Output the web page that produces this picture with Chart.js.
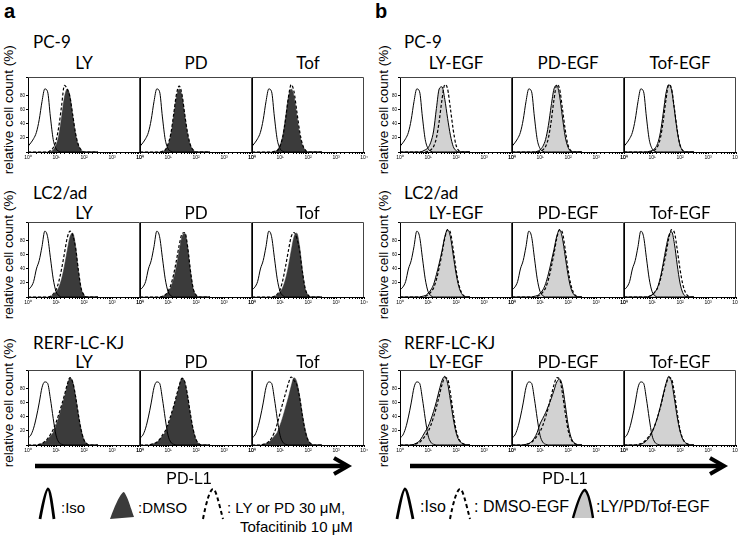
<!DOCTYPE html>
<html>
<head>
<meta charset="utf-8">
<script src="https://cdn.jsdelivr.net/npm/chart.js@4.4.1/dist/chart.umd.min.js"></script>
<style>
  html,body{margin:0;padding:0;background:#fff;}
  #fig{position:relative;width:738px;height:535px;overflow:hidden;font-family:"Liberation Sans",Arial,sans-serif;color:#000;}
  #fig canvas{position:absolute;}
  .t{position:absolute;white-space:nowrap;line-height:1;}
  .name{font-family:Lato,"Open Sans",sans-serif;font-size:17px;}
  .ttl{font-family:Lato,"Open Sans",sans-serif;font-size:17px;text-align:center;width:112px;}
  .ylab{font-size:13.5px;width:170px;text-align:center;transform:rotate(-90deg);}
  .leg{font-size:15px;}
  .legb{font-size:16px;}
  svg{position:absolute;left:0;top:0;}
</style>
</head>
<body>
<div id="fig">
  <svg width="738" height="535">
    <!-- PD-L1 arrows -->
    <line x1="35" y1="466" x2="344" y2="466" stroke="#000" stroke-width="4.5"/>
    <polyline points="334,458 348,466 334,474" fill="none" stroke="#000" stroke-width="4"/>
    <line x1="410" y1="466" x2="720" y2="466" stroke="#000" stroke-width="4.5"/>
    <polyline points="710,458 724,466 710,474" fill="none" stroke="#000" stroke-width="4"/>
    <!-- legend glyphs a -->
    <path d="M40,519 C43,503 46,489 48,489 C50,489 52,504 54,519" fill="none" stroke="#000" stroke-width="2.8"/>
    <path d="M110,519 C115,505 121,492 124,492 C128,497 131,509 134,517 Z" fill="#3b3b3b"/>
    <path d="M203,519 C206,503 210,489 213,489 C216,489 219,504 223,519" fill="none" stroke="#000" stroke-width="2" stroke-dasharray="4,3"/>
    <!-- legend glyphs b -->
    <path d="M397,519 C400,503 403,489 405,489 C407,489 410,504 413,519" fill="none" stroke="#000" stroke-width="2.8"/>
    <path d="M450,519 C453,503 457,489 460,489 C463,489 466,504 470,519" fill="none" stroke="#000" stroke-width="2" stroke-dasharray="4,3"/>
    <path d="M573,518 C577,504 582,490 585,490 C588,492 591,505 593,518 Z" fill="#c8c8c8" stroke="none"/>
    <path d="M573,518 C577,504 582,490 585,490 C588,492 591,505 593,518" fill="none" stroke="#000" stroke-width="2.4"/>
  </svg>
</div>
<script>
// ===== Dados =====
// eixo PD-L1 em décadas (10^0 ... 10^2.5), passo de 0.1
const logSteps = [0,0.1,0.2,0.3,0.4,0.5,0.6,0.7,0.8,0.9,1.0,1.1,1.2,1.3,1.4,1.5,1.6,1.7,1.8,1.9,2.0,2.1,2.2,2.3,2.4,2.5];
const xTickLabels = ['10\u2070','10\u00b9','10\u00b2','10\u00b3','10\u2074'];
const yTickLabels = ['20','40','60','80','100'];

const cellLines = ['PC-9','LC2/ad','RERF-LC-KJ'];
const titlesA = ['LY','PD','Tof'];
const titlesB = ['LY-EGF','PD-EGF','Tof-EGF'];

// PC-9
const isoPC9     = [8,13,19,28,46,72,90,86,50,18,5,1,0,0,0,0,0,0,0,0,0,0,0,0,0,0];
const dmsoPC9    = [0,0,0,0,0,0,0,0,1,3,10,24,50,78,90,80,52,26,10,3,0,0,0,0,0,0];
const lyPC9      = [0,0,0,0,0,0,0,0,2,6,16,36,66,95,90,78,52,26,10,3,0,0,0,0,0,0];
const pdPC9      = [0,0,0,0,0,0,0,0,1,3,11,26,53,82,94,82,53,27,10,3,0,0,0,0,0,0];
const tofPC9     = [0,0,0,0,0,0,0,0,1,2,8,22,47,78,96,86,58,30,11,3,0,0,0,0,0,0];
const dmsoEgfPC9 = [0,0,0,0,0,0,0,0,0,0,1,3,8,20,44,75,96,90,62,32,10,2,0,0,0,0];
const lyEgfPC9   = [0,0,0,0,0,0,0,0,1,3,6,14,30,62,90,93,75,48,24,8,2,0,0,0,0,0];
const pdEgfPC9   = [0,0,0,0,0,0,0,0,0,1,3,8,18,38,66,90,95,80,50,22,7,1,0,0,0,0];
const tofEgfPC9  = [0,0,0,0,0,0,0,0,0,1,2,5,12,28,55,84,96,88,60,30,10,2,0,0,0,0];

// LC2/ad
const isoLC2     = [10,14,22,40,52,72,94,86,56,26,8,2,0,0,0,0,0,0,0,0,0,0,0,0,0,0];
const dmsoLC2    = [0,0,0,0,0,0,0,0,1,3,7,14,26,44,66,86,91,72,38,12,3,0,0,0,0,0];
const lyLC2      = [0,0,0,0,0,0,0,0,1,4,10,22,40,62,84,94,88,70,38,12,3,0,0,0,0,0];
const pdLC2      = [0,0,0,0,0,0,0,0,1,3,8,17,32,52,74,90,92,72,38,12,3,0,0,0,0,0];
const tofLC2     = [0,0,0,0,0,0,0,0,1,4,10,24,44,66,86,92,84,66,36,12,3,0,0,0,0,0];
const dmsoEgfLC2 = [0,0,0,0,0,0,0,0,0,1,3,7,13,25,42,62,84,96,92,68,40,18,6,1,0,0];
const lyEgfLC2   = [0,0,0,0,0,0,0,0,1,2,5,10,18,32,48,66,86,96,86,60,34,15,5,1,0,0];
const pdEgfLC2   = [0,0,0,0,0,0,0,0,1,2,5,10,19,33,50,68,87,96,84,58,32,13,4,1,0,0];
const tofEgfLC2  = [0,0,0,0,0,0,0,0,0,1,3,7,14,28,48,70,88,93,76,46,20,6,1,0,0,0];

// RERF-LC-KJ
const isoRERF     = [10,14,24,40,60,82,90,88,66,38,14,4,1,0,0,0,0,0,0,0,0,0,0,0,0,0];
const dmsoRERF    = [0,0,0,0,1,2,4,8,13,18,28,40,54,68,84,96,90,70,44,22,8,2,0,0,0,0];
const lyRERF      = [0,0,0,0,1,2,5,9,15,22,32,44,57,71,86,96,89,69,43,21,7,2,0,0,0,0];
const pdRERF      = [0,0,0,0,1,2,4,8,14,20,30,42,55,70,85,95,90,70,44,22,8,2,0,0,0,0];
const tofRERF     = [0,0,0,0,1,2,5,10,18,30,45,60,74,88,97,92,86,68,42,20,7,2,0,0,0,0];
const dmsoEgfRERF = [0,0,0,0,0,1,2,4,8,13,19,28,40,54,70,86,96,94,74,46,22,9,3,1,0,0];
const lyEgfRERF   = [0,0,0,0,0,1,3,6,12,19,26,36,48,62,78,92,98,88,64,38,18,7,3,1,0,0];
const pdEgfRERF   = [0,0,0,0,0,1,2,5,10,18,30,38,46,56,66,78,90,94,84,58,30,12,4,1,0,0];
const tofEgfRERF  = [0,0,0,0,0,0,1,3,6,11,18,28,40,55,72,88,98,90,66,40,20,8,3,1,0,0];

const isoRows = [isoPC9, isoLC2, isoRERF];
const dmsoRows = [dmsoPC9, dmsoLC2, dmsoRERF];
const inhibRows = [[lyPC9,pdPC9,tofPC9],[lyLC2,pdLC2,tofLC2],[lyRERF,pdRERF,tofRERF]];
const dmsoEgfRows = [dmsoEgfPC9, dmsoEgfLC2, dmsoEgfRERF];
const egfRows = [[lyEgfPC9,pdEgfPC9,tofEgfPC9],[lyEgfLC2,pdEgfLC2,tofEgfLC2],[lyEgfRERF,pdEgfRERF,tofEgfRERF]];

// ===== Layout =====
const fig = document.getElementById('fig');
const PW = 112, PH = 75, AXW = 14, PADT = 4, PADR = 6, AXH = 12;
const colA = [28,140,252], colB = [400,512,624];
const rowTop = [77,222,370];
const nameY = [42,193,343], ttlY = [63,213,362];

function addText(cls, txt, left, top, extra){
  const d = document.createElement('div');
  d.className = 't ' + cls;
  d.textContent = txt;
  d.style.left = left + 'px';
  d.style.top = top + 'px';
  if (extra) Object.assign(d.style, extra);
  fig.appendChild(d);
  return d;
}

const framePlugin = {
  id:'frame',
  afterDraw(chart){
    const {ctx, chartArea:a} = chart;
    ctx.save();
    ctx.strokeStyle = '#444';
    ctx.lineWidth = 1;
    ctx.beginPath();
    ctx.moveTo(a.left, a.top + 0.5);
    ctx.lineTo(a.right - 0.5, a.top + 0.5);
    ctx.lineTo(a.right - 0.5, a.bottom);
    ctx.stroke();
    ctx.restore();
  }
};

const pts = arr => arr.map((y,i)=>({x: Math.pow(10, logSteps[i]), y}));

function panel(left, top, showY, fillData, fillColor, fillLine, dashData, isoData){
  const cv = document.createElement('canvas');
  const w = AXW + PW + PADR, h = PADT + PH + AXH;
  cv.width = w; cv.height = h;
  cv.style.left = (left - AXW) + 'px';
  cv.style.top = (top - PADT) + 'px';
  cv.style.width = w + 'px'; cv.style.height = h + 'px';
  fig.appendChild(cv);
  new Chart(cv.getContext('2d'), {
    type:'line',
    data:{ datasets:[
      { data:pts(isoData), borderColor:'#000', borderWidth:1, fill:false, order:1 },
      { data:pts(dashData), borderColor:'#000', borderWidth:1.2, borderDash:[3,2], fill:false, order:2 },
      { data:pts(fillData), borderColor:fillLine, borderWidth:fillLine==='#000'?1:0.5, fill:'origin', backgroundColor:fillColor, order:3 }
    ]},
    options:{
      responsive:false, animation:false, devicePixelRatio:1,
      layout:{ padding:{ left:0, right:PADR, top:PADT, bottom:0 } },
      elements:{ point:{ radius:0 }, line:{ cubicInterpolationMode:'monotone' } },
      plugins:{ legend:{display:false}, tooltip:{enabled:false} },
      scales:{
        x:{
          type:'logarithmic', min:1, max:10000,
          border:{ display:true, color:'#000', width:1 },
          grid:{ drawOnChartArea:false, drawTicks:true, tickLength:2, color:'#000' },
          ticks:{ autoSkip:false, maxRotation:0, padding:1, color:'#000', font:{size:5, family:'Liberation Sans'},
            callback:(v)=>{ const k = Math.round(Math.log10(v)); return Math.abs(Math.log10(v)-k)<1e-9 ? xTickLabels[k] : ''; } },
          afterFit:(s)=>{ s.height = AXH; }
        },
        y:{
          min:0, max:107,
          border:{ display:true, color:'#000', width:1 },
          grid:{ drawOnChartArea:false, drawTicks:showY, tickLength:2, color:'#000' },
          ticks:{ display:showY, stepSize:20, padding:1, color:'#000', font:{size:4.5, family:'Liberation Sans'},
            callback:(v)=> (v>0 && v%20===0) ? yTickLabels[v/20-1] : '' },
          afterFit:(s)=>{ s.width = AXW; }
        }
      }
    },
    plugins:[framePlugin]
  });
}

// ===== Monta figura =====
addText('', 'a', 4, 1, {fontWeight:'bold', fontSize:'20px'});
addText('', 'b', 375, 1, {fontWeight:'bold', fontSize:'20px'});

for (let r=0;r<3;r++){
  const T = rowTop[r];
  addText('name', cellLines[r], 33, nameY[r]-9);
  addText('name', cellLines[r], 404, nameY[r]-9);
  addText('ylab', 'relative cell count (%)', 9-85, T+33-7);
  addText('ylab', 'relative cell count (%)', 384-85, T+33-7);
  for (let c=0;c<3;c++){
    addText('ttl', titlesA[c], colA[c], ttlY[r]-9);
    addText('ttl', titlesB[c], colB[c], ttlY[r]-9);
    panel(colA[c], T, c===0, dmsoRows[r], '#3b3b3b', '#333', inhibRows[r][c], isoRows[r]);
    panel(colB[c], T, c===0, egfRows[r][c], '#d2d2d2', '#000', dmsoEgfRows[r], isoRows[r]);
  }
}

addText('leg', 'PD-L1', 189, 479-8, {transform:'translateX(-50%)', fontSize:'16px'});
addText('leg', 'PD-L1', 565, 479-8, {transform:'translateX(-50%)', fontSize:'16px'});
addText('leg', ':Iso', 61, 508-8);
addText('leg', ':DMSO', 138, 508-8);
addText('leg', ': LY or PD 30 \u03bcM,', 227, 508-8);
addText('leg', 'Tofacitinib 10 \u03bcM', 240, 527-8);
addText('legb', ':Iso', 420, 508-9);
addText('legb', ': DMSO-EGF', 474, 508-9);
addText('legb', ':LY/PD/Tof-EGF', 596, 508-9);
</script>
</body>
</html>
